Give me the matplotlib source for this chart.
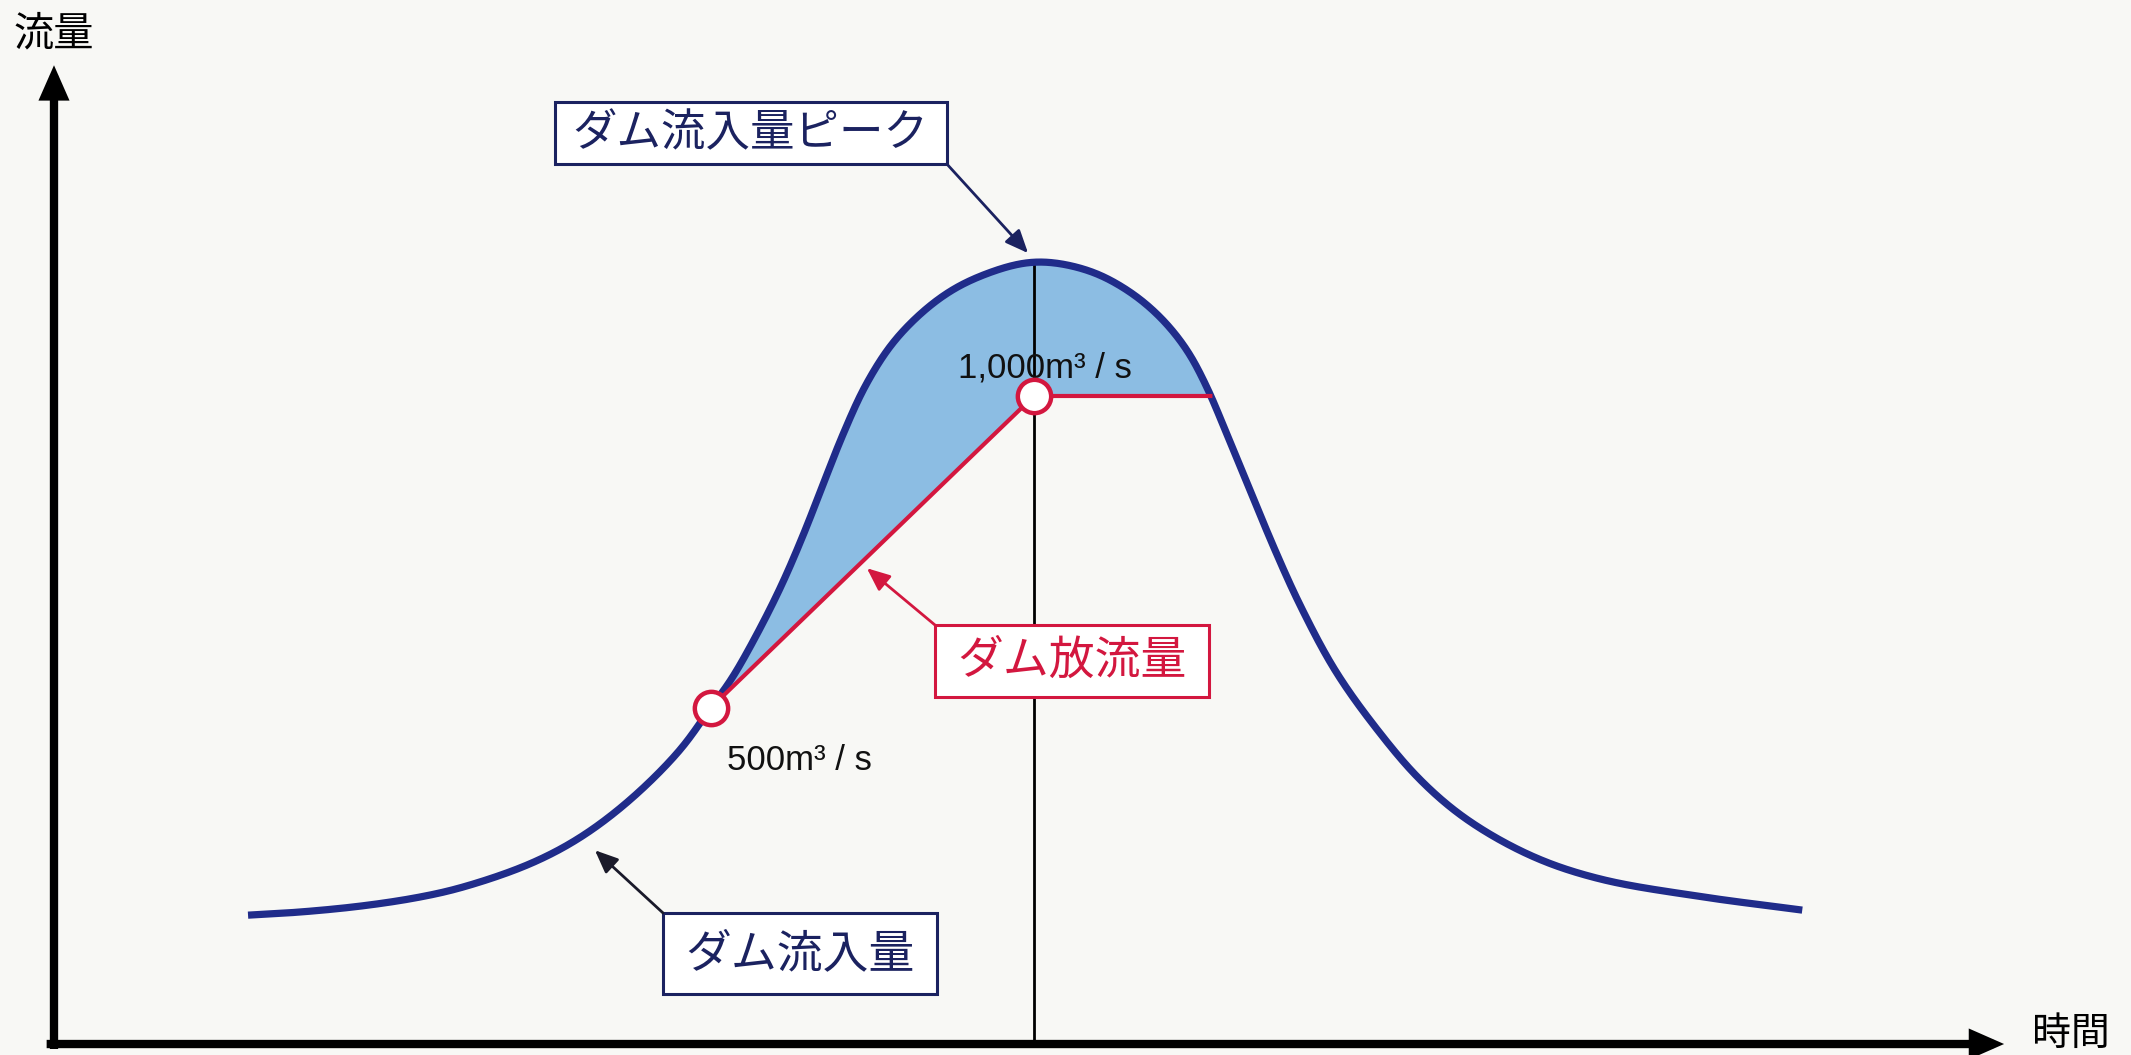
import numpy as np
import matplotlib
matplotlib.use('Agg')
import matplotlib.pyplot as plt
from matplotlib.patches import Rectangle

plt.rcParams['font.family'] = ['Noto Sans CJK JP', 'DejaVu Sans']

# ---------------- data (time in hours, flow in m3/s) ----------------
time_h = [3.96, 5.02, 6.31, 7.47, 8.35, 9.71, 10.73, 11.76, 12.78, 13.40,
          13.80, 14.27, 14.82, 15.29, 15.69, 16.10, 16.59, 17.20, 18.08,
          18.90, 20.00, 21.08, 21.90, 22.57, 23.12, 23.53, 23.90, 24.41,
          24.92, 25.43, 26.14, 26.96, 27.88, 28.84, 30.18, 31.55, 33.59,
          35.69]
inflow = [168, 173, 183, 197, 213, 250, 292, 353, 433, 500,
          543, 607, 692, 777, 857, 938, 1021, 1093, 1157,
          1192, 1215, 1202, 1170, 1127, 1074, 1014, 946, 849,
          753, 665, 561, 470, 385, 321, 262, 226, 198,
          176]
release_t = [13.4, 20.0, 23.6]
release_q = [500, 1000, 1000]
marker_t = [13.4, 20.0]
marker_q = [500, 1000]
label_inflow = "ダム流入量"
label_peak = "ダム流入量ピーク"
label_release = "ダム放流量"
label_q1 = "500m³ / s"
label_q2 = "1,000m³ / s"
axis_y_label = "流量"
axis_x_label = "時間"

NAVY = '#202c8a'
BOXNAVY = '#1b2260'
RED = '#d3173f'
FILL = '#8cbde3'
BG = '#f8f8f5'

# ---------------- smoothing (centripetal Catmull-Rom + light blur) ----------
SX, SY = 49.0, 0.624  # to approximately isotropic (pixel-like) units


def catmull_rom(x, y, n=24, alpha=0.5):
    P = np.column_stack([np.asarray(x) * SX, np.asarray(y) * SY])
    P = np.vstack([2 * P[0] - P[1], P, 2 * P[-1] - P[-2]])
    out = []
    for i in range(1, len(P) - 2):
        p0, p1, p2, p3 = P[i - 1], P[i], P[i + 1], P[i + 2]
        t0 = 0.0
        t1 = t0 + np.linalg.norm(p1 - p0) ** alpha
        t2 = t1 + np.linalg.norm(p2 - p1) ** alpha
        t3 = t2 + np.linalg.norm(p3 - p2) ** alpha
        t = np.linspace(t1, t2, n, endpoint=False)[:, None]
        A1 = (t1 - t) / (t1 - t0) * p0 + (t - t0) / (t1 - t0) * p1
        A2 = (t2 - t) / (t2 - t1) * p1 + (t - t1) / (t2 - t1) * p2
        A3 = (t3 - t) / (t3 - t2) * p2 + (t - t2) / (t3 - t2) * p3
        B1 = (t2 - t) / (t2 - t0) * A1 + (t - t0) / (t2 - t0) * A2
        B2 = (t3 - t) / (t3 - t1) * A2 + (t - t1) / (t3 - t1) * A3
        out.append((t2 - t) / (t2 - t1) * B1 + (t - t1) / (t2 - t1) * B2)
    out.append(P[-2][None, :])
    C = np.vstack(out)
    # resample by arc length and blur gently to remove reading noise
    seg = np.hypot(np.diff(C[:, 0]), np.diff(C[:, 1]))
    s = np.concatenate([[0], np.cumsum(seg)])
    su = np.arange(0, s[-1], 1.0)
    xu = np.interp(su, s, C[:, 0])
    yu = np.interp(su, s, C[:, 1])
    sig = 9.0
    k = np.arange(-int(4 * sig), int(4 * sig) + 1)
    w = np.exp(-0.5 * (k / sig) ** 2)
    w /= w.sum()
    m = len(k) // 2

    def blur(v):
        left = 2 * v[0] - v[1:m + 1][::-1]
        right = 2 * v[-1] - v[-m - 1:-1][::-1]
        return np.convolve(np.concatenate([left, v, right]), w, mode='valid')

    return blur(xu) / SX, blur(yu) / SY


ts, qs = catmull_rom(time_h, inflow)

# ---------------- figure ----------------
fig = plt.figure(figsize=(21.31, 10.55), dpi=100, facecolor=BG)
ax = fig.add_axes([0, 0, 1, 1])
ax.set_facecolor(BG)
ax.set_xlim(-1.102, 42.39)
ax.set_ylim(-56.1, 1634.6)
ax.axis('off')

# shaded storage area between inflow and release
rel_on_grid = np.interp(ts, release_t, release_q)
mask = (ts >= release_t[0]) & (ts <= release_t[-1])
ax.fill_between(ts, rel_on_grid, qs, where=mask & (qs >= rel_on_grid),
                color=FILL, lw=0, zorder=1)

# vertical line at the peak time
peak_i = int(np.argmax(inflow))
ax.plot([time_h[peak_i], time_h[peak_i]], [inflow[peak_i], -38.5],
        color='black', lw=2.0, zorder=2)

# inflow hydrograph
ax.plot(ts, qs, color=NAVY, lw=5.2, solid_capstyle='butt', zorder=3)
# release
ax.plot(release_t, release_q, color=RED, lw=3.0, zorder=4,
        solid_joinstyle='miter')
ax.plot(marker_t, marker_q, ls='none', marker='o', ms=24, mfc='white',
        mec=RED, mew=3.2, zorder=6)

# axes arrows
axis_kw = dict(arrowstyle='-|>,head_length=0.75,head_width=0.33', lw=6,
               color='black', mutation_scale=20, shrinkA=0, shrinkB=0,
               joinstyle='miter', capstyle='butt')
ax.annotate('', xy=(0.0, 1530), xytext=(0.0, -46.5), arrowprops=axis_kw,
            zorder=5)
ax.annotate('', xy=(39.8, -38.5), xytext=(-0.15, -38.5), arrowprops=axis_kw,
            zorder=5)
ax.text(0.0, 1580, axis_y_label, ha='center', va='center', fontsize=29,
        color='black')
ax.text(41.16, -22, axis_x_label, ha='center', va='center', fontsize=28,
        color='black')

# value labels
ax.text(20.22, 1030, label_q2, ha='center', va='baseline', fontsize=25,
        family=['Liberation Sans', 'DejaVu Sans'], color='#111111', zorder=5)
ax.text(15.22, 400, label_q1, ha='center', va='baseline', fontsize=25,
        family=['Liberation Sans', 'DejaVu Sans'], color='#111111', zorder=5)


def box(t0, t1, q0, q1, text, color, tcolor, fs):
    ax.add_patch(Rectangle((t0, q0), t1 - t0, q1 - q0, facecolor='white',
                           edgecolor=color, lw=2.2, zorder=7))
    ax.text((t0 + t1) / 2, (q0 + q1) / 2, text, ha='center', va='center',
            fontsize=fs, color=tcolor, zorder=8)


# peak label
box(10.22, 18.22, 1372, 1471, label_peak, BOXNAVY, BOXNAVY, 32)
ax.annotate('', xy=(19.88, 1229), xytext=(18.22, 1372),
            arrowprops=dict(arrowstyle='-|>,head_length=0.7,head_width=0.3',
                            lw=2, color=BOXNAVY, mutation_scale=20,
                            shrinkA=0, shrinkB=0), zorder=7)
# inflow label
box(12.43, 18.02, 41.7, 171.5, label_inflow, BOXNAVY, BOXNAVY, 33)
ax.annotate('', xy=(11.04, 272), xytext=(12.43, 171.5),
            arrowprops=dict(arrowstyle='-|>,head_length=0.7,head_width=0.3',
                            lw=2, color='#1a1a2a', mutation_scale=20,
                            shrinkA=0, shrinkB=0), zorder=7)
# release label
box(17.98, 23.57, 518, 633, label_release, RED, RED, 33)
ax.annotate('', xy=(16.59, 724), xytext=(17.98, 633),
            arrowprops=dict(arrowstyle='-|>,head_length=0.7,head_width=0.3',
                            lw=2, color=RED, mutation_scale=20,
                            shrinkA=0, shrinkB=0), zorder=7)

fig.savefig('out.png', dpi=100, facecolor=BG)
